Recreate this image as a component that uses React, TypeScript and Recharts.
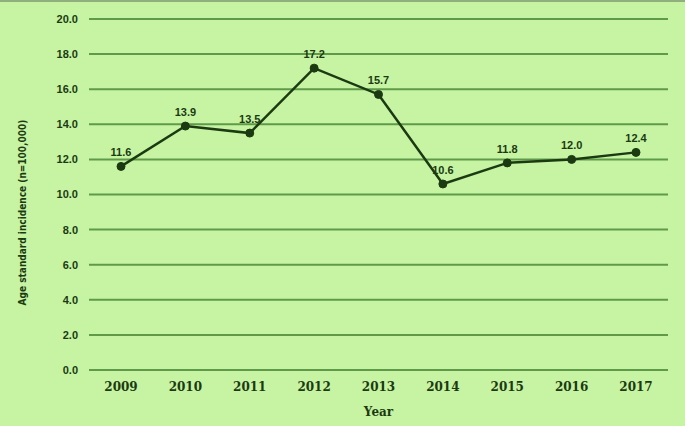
import { CartesianGrid, LabelList, Line, LineChart, XAxis, YAxis } from "recharts";

const years = ["2009", "2010", "2011", "2012", "2013", "2014", "2015", "2016", "2017"];
const incidence = [11.6, 13.9, 13.5, 17.2, 15.7, 10.6, 11.8, 12.0, 12.4];
const yTicks = [0, 2, 4, 6, 8, 10, 12, 14, 16, 18, 20];

const data = years.map((year, i) => ({ year, value: incidence[i] }));

const ink = "#1c3a12";
const grid = "#5f9a4a";

function YTitle(props: any) {
  const vb = props.viewBox || { x: 0, y: 0, width: 0, height: 0 };
  const cx = vb.x + 22;
  const cy = vb.y + vb.height / 2 + 18;
  return (
    <text
      x={cx}
      y={cy}
      transform={`rotate(-90, ${cx}, ${cy})`}
      textAnchor="middle"
      dominantBaseline="central"
      fill={ink}
      fontSize={10}
      fontWeight={700}
      fontFamily="Liberation Sans Narrow, DejaVu Sans Condensed"
    >
      Age standard incidence (n=100,000)
    </text>
  );
}

export default function App() {
  return (
    <div
      style={{
        position: "absolute",
        left: 0,
        top: 0,
        width: 685,
        height: 426,
        background: "#c6f4a2",
        borderTop: "2px solid #8fb07c",
        boxSizing: "border-box",
      }}
    >
      <LineChart
        width={685}
        height={424}
        data={data}
        margin={{ top: 17, right: 17, left: 0, bottom: 0 }}
      >
        <CartesianGrid vertical={false} stroke={grid} strokeWidth={2} />
        <XAxis
          dataKey="year"
          padding={{ left: 32, right: 32 }}
          axisLine={{ stroke: grid, strokeWidth: 2 }}
          tickLine={false}
          tickMargin={6}
          tick={{ fill: ink, fontSize: 12, fontWeight: 700, fontFamily: "DejaVu Serif" }}
          label={{
            value: "Year",
            position: "insideBottom",
            offset: 10,
            fill: ink,
            fontSize: 12,
            fontWeight: 700,
            fontFamily: "DejaVu Serif",
          }}
          height={56}
        />
        <YAxis
          domain={[0, 20]}
          ticks={yTicks}
          width={89}
          axisLine={false}
          tickLine={false}
          tickSize={8}
          tickMargin={3}
          tickFormatter={(v: number) => v.toFixed(1)}
          tick={{ fill: ink, fontSize: 11, fontWeight: 700, fontFamily: "Liberation Sans" }}
          label={<YTitle />}
        />
        <Line
          type="linear"
          dataKey="value"
          stroke={ink}
          strokeWidth={2.5}
          dot={{ r: 4, fill: ink, stroke: ink, strokeWidth: 1 }}
          isAnimationActive={false}
        >
          <LabelList
            dataKey="value"
            position="top"
            offset={10}
            formatter={(v: number) => v.toFixed(1)}
            style={{ fill: ink, fontSize: 11, fontWeight: 700, fontFamily: "Liberation Sans" }}
          />
        </Line>
      </LineChart>
    </div>
  );
}
